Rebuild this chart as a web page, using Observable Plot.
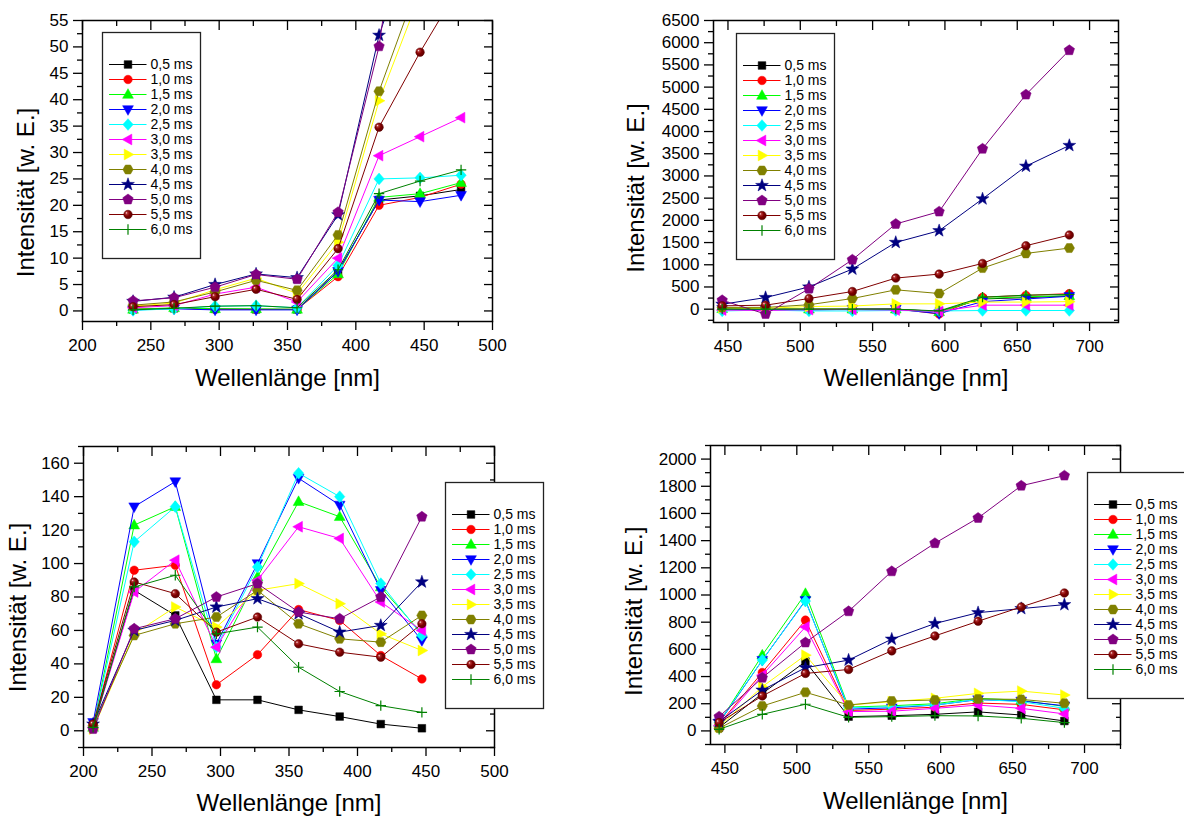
<!DOCTYPE html>
<html>
<head>
<meta charset="utf-8">
<script src="https://cdn.jsdelivr.net/npm/d3@7"></script>
<script src="https://cdn.jsdelivr.net/npm/@observablehq/plot@0.6"></script>
<style>
  body { margin: 0; background: #fff; width: 1184px; height: 816px; position: relative; overflow: hidden; font-family: "Liberation Sans", Arial, sans-serif; }
  .box { position: absolute; }
</style>
</head>
<body>
<svg width="0" height="0" style="position:absolute">
  <defs>
    <radialGradient id="sphereGrad" cx="0.42" cy="0.42" r="0.62" fx="0.3" fy="0.3">
      <stop offset="0" stop-color="#ffe8e8"/>
      <stop offset="0.22" stop-color="#b03030"/>
      <stop offset="0.55" stop-color="#800000"/>
      <stop offset="1" stop-color="#5a0000"/>
    </radialGradient>
  </defs>
</svg>
<script>
// ---------- data ----------
const labels = ["0,5 ms","1,0 ms","1,5 ms","2,0 ms","2,5 ms","3,0 ms","3,5 ms","4,0 ms","4,5 ms","5,0 ms","5,5 ms","6,0 ms"];
const colors = ["#000000","#ff0000","#00ff00","#0000ff","#00ffff","#ff00ff","#ffff00","#808000","#000080","#800080","#800000","#008000"];
const markers = ["square","circle","triangle","triangleDown","diamond","triangleLeft","triangleRight","hexagon","star","pentagon","sphere","plus"];

const xUvA = [237, 267, 297, 327, 357, 387, 417, 447, 477];   // top left
const xVis = [446, 476, 506, 536, 566, 596, 626, 656, 686];   // right panels
const xUvB = [207, 237, 267, 297, 327, 357, 387, 417, 447];   // bottom left

const topLeft = [
  [0.3, 0.5, 0.4, 0.3, 0.3, 7.5, 21.0, 21.8, 23.0],
  [0.3, 0.5, 0.3, 0.3, 0.3, 6.5, 20.0, 21.5, 24.0],
  [0.3, 0.6, 0.4, 0.4, 0.3, 7.0, 21.5, 22.2, 24.3],
  [0.2, 0.4, 0.2, 0.2, 0.2, 7.5, 21.0, 20.7, 21.9],
  [0.1, 0.4, 0.9, 1.0, 0.6, 8.6, 25.0, 25.2, 25.7],
  [0.6, 1.0, 3.2, 4.5, 1.7, 10.0, 29.4, 33.0, 36.6],
  [0.9, 1.5, 4.0, 6.2, 3.3, 13.0, 39.8, 60, 72],
  [1.1, 1.7, 3.6, 5.8, 3.9, 14.4, 41.6, 63, 78],
  [1.8, 2.6, 5.0, 7.0, 6.3, 18.2, 52.2, 75, 230],
  [1.9, 2.5, 4.5, 6.9, 6.0, 18.7, 50.1, 105, 120],
  [0.8, 1.2, 2.7, 4.1, 2.2, 11.8, 34.8, 49.0, 62],
  [0.2, 0.5, 0.9, 1.0, 0.6, 7.8, 22.2, 24.6, 26.7]
];
const topRight = [
  [10, 0, 0, 0, 0, -50, 230, 260, 300],
  [20, 0, 0, 0, 10, -110, 270, 310, 350],
  [10, 0, 0, 0, 0, -60, 240, 280, 300],
  [0, -10, -20, 0, 0, -100, 170, 230, 290],
  [-40, -20, -40, -40, -30, -40, -30, -30, -30],
  [-20, -30, -10, -10, -20, -50, 90, 90, 90],
  [30, 20, 60, 70, 120, 120, 160, 160, 170],
  [40, 40, 100, 240, 436, 353, 925, 1256, 1376],
  [110, 262, 500, 903, 1503, 1767, 2483, 3219, 3686],
  [200, -110, 460, 1113, 1918, 2196, 3611, 4830, 5830],
  [75, 90, 240, 398, 700, 790, 1030, 1429, 1670],
  [0, 0, 0, 0, 0, -40, 270, 316, 330]
];
const bottomLeft = [
  [3, 84, 69, 18.5, 18.5, 12.5, 8.5, 4, 1.5],
  [3, 96, 99, 27.5, 45.5, 72.5, 66, 45, 31],
  [2, 123, 134, 43, 92, 137, 128, 86, 58],
  [5, 134, 149, 52, 100, 151, 135, 84, 54],
  [2, 113, 134, 50, 98, 154, 140, 88, 57],
  [2, 83, 102, 50, 90, 122, 115, 77, 60],
  [1, 58, 74, 62, 84, 88, 76, 58, 48],
  [3, 57, 64, 68, 84, 64, 55, 53, 69],
  [4, 60, 66, 74, 79, 70, 59, 63, 89],
  [1, 61, 67, 80, 88, 71, 67, 80, 128],
  [4, 89, 82, 59, 68, 52, 47, 44, 64],
  [2, 86, 93, 58, 62, 38, 23.5, 15, 11]
];
const bottomRight = [
  [25, 275, 510, 105, 112, 122, 140, 117, 73],
  [50, 430, 815, 150, 160, 175, 205, 195, 155],
  [60, 557, 1010, 175, 185, 200, 240, 225, 180],
  [60, 520, 960, 160, 170, 190, 230, 220, 185],
  [65, 521, 955, 170, 178, 190, 232, 215, 166],
  [40, 410, 765, 142, 145, 166, 190, 166, 125],
  [30, 325, 557, 190, 215, 240, 276, 293, 264],
  [20, 183, 284, 191, 220, 227, 235, 232, 203],
  [68, 300, 465, 521, 675, 790, 870, 900, 929],
  [105, 391, 650, 880, 1174, 1381, 1567, 1804, 1878],
  [61, 257, 423, 452, 589, 699, 807, 912, 1015],
  [12, 122, 196, 100, 105, 112, 110, 93, 61]
];

const xTicksUv = [200, 250, 300, 350, 400, 450, 500];
const xTicksVis = [450, 500, 550, 600, 650, 700];
const yTicksTL = [0, 5, 10, 15, 20, 25, 30, 35, 40, 45, 50, 55];
const yTicksTR = [0, 500, 1000, 1500, 2000, 2500, 3000, 3500, 4000, 4500, 5000, 5500, 6000, 6500];
const yTicksBL = [0, 20, 40, 60, 80, 100, 120, 140, 160];
const yTicksBR = [0, 200, 400, 600, 800, 1000, 1200, 1400, 1600, 1800, 2000];
const xTitle = "Wellenlänge [nm]";
const yTitle = "Intensität [w. E.]";

// ---------- symbols ----------
function polySym(pts) {
  return { draw(ctx, size) {
    const r = Math.sqrt(size / Math.PI);
    ctx.moveTo(pts[0][0] * r, pts[0][1] * r);
    for (let i = 1; i < pts.length; i++) ctx.lineTo(pts[i][0] * r, pts[i][1] * r);
    ctx.closePath();
  }};
}
function regular(n, R, a0) {
  return d3.range(n).map(i => { const a = a0 + i * 2 * Math.PI / n; return [R * Math.cos(a), R * Math.sin(a)]; });
}
function starPts(R, r0) {
  return d3.range(10).map(i => { const a = -Math.PI / 2 + i * Math.PI / 5; const rr = i % 2 ? r0 : R; return [rr * Math.cos(a), rr * Math.sin(a)]; });
}
const circleSym = { draw(ctx, size) { const r = Math.sqrt(size / Math.PI) * 0.95; ctx.moveTo(r, 0); ctx.arc(0, 0, r, 0, 2 * Math.PI); } };
const plusSym = { draw(ctx, size) { const r = Math.sqrt(size / Math.PI) * 1.15; ctx.moveTo(-r, 0); ctx.lineTo(r, 0); ctx.moveTo(0, -r); ctx.lineTo(0, r); } };
const SYMBOLS = {
  square: polySym([[-0.85, -0.85], [0.85, -0.85], [0.85, 0.85], [-0.85, 0.85]]),
  circle: circleSym,
  triangle: polySym([[0, -1.3], [1.2, 0.85], [-1.2, 0.85]]),
  triangleDown: polySym([[0, 1.3], [1.2, -0.85], [-1.2, -0.85]]),
  triangleLeft: polySym([[-1.3, 0], [0.85, -1.2], [0.85, 1.2]]),
  triangleRight: polySym([[1.3, 0], [-0.85, -1.2], [-0.85, 1.2]]),
  diamond: polySym([[0, -1.3], [1.15, 0], [0, 1.3], [-1.15, 0]]),
  hexagon: polySym(regular(6, 1.15, 0)),
  pentagon: polySym(regular(5, 1.22, -Math.PI / 2)),
  star: polySym(starPts(1.5, 0.6)),
  sphere: circleSym,
  plus: plusSym
};

function dotMark(data, k, opts) {
  const m = markers[k];
  const o = { ...opts, symbol: SYMBOLS[m], r: 4.5 };
  if (m === "plus") { o.fill = "none"; o.stroke = colors[k]; o.strokeWidth = 1.2; }
  else if (m === "sphere") { o.fill = "url(#sphereGrad)"; o.stroke = "#600000"; o.strokeWidth = 0.5; }
  else { o.fill = colors[k]; o.stroke = colors[k]; o.strokeWidth = 0.5; }
  return Plot.dot(data, o);
}

function seriesMarks(xs, rows) {
  const out = [];
  rows.forEach((vals, k) => {
    const pts = xs.map((x, i) => ({ x, y: vals[i] }));
    out.push(Plot.line(pts, { x: "x", y: "y", stroke: colors[k], strokeWidth: 1, clip: true }));
    out.push(dotMark(pts, k, { x: "x", y: "y", clip: true }));
  });
  return out;
}

const FONT = "'Liberation Sans', Arial, sans-serif";

function minors(ticks, step, lo, hi) {
  const out = [];
  for (let v = ticks[0] - step / 2; v <= hi + 1e-9; v += step) if (v >= lo - 1e-9 && v <= hi + 1e-9) out.push(+v.toFixed(6));
  return out;
}

function panel(cfg) {
  const { left, top, width, height, m, xDomain, yDomain, xTicks, yTicks, xs, rows, yTitlePos, xTitleDy } = cfg;
  const xMin = minors(xTicks, xTicks[1] - xTicks[0], xDomain[0], xDomain[1]);
  const yMin = minors(yTicks, yTicks[1] - yTicks[0], yDomain[0], yDomain[1]);
  const blank = () => "";
  const ax = { label: null, strokeWidth: 1.3 };
  const plot = Plot.plot({
    width, height,
    marginLeft: m[0], marginRight: m[1], marginTop: m[2], marginBottom: m[3],
    x: { domain: xDomain, label: null },
    y: { domain: yDomain, label: null },
    style: { fontFamily: FONT, fontSize: "17px", color: "black", background: "transparent", overflow: "visible" },
    marks: [
      ...seriesMarks(xs, rows),
      Plot.frame({ stroke: "black", strokeWidth: 1.5 }),
      Plot.axisX({ ...ax, anchor: "bottom", ticks: xTicks, tickSize: 9, tickPadding: 8, fontSize: 17, tickFormat: d => String(d) }),
      Plot.axisX({ ...ax, anchor: "bottom", ticks: xMin, tickSize: 5, tickFormat: blank }),
      Plot.axisX({ ...ax, anchor: "top", ticks: xTicks, tickSize: 9, dy: 9, tickFormat: blank }),
      Plot.axisX({ ...ax, anchor: "top", ticks: xMin, tickSize: 5, dy: 5, tickFormat: blank }),
      Plot.axisY({ ...ax, anchor: "left", ticks: yTicks, tickSize: 9, tickPadding: 5, fontSize: 17, tickFormat: d => String(d) }),
      Plot.axisY({ ...ax, anchor: "left", ticks: yMin, tickSize: 5, tickFormat: blank }),
      Plot.axisY({ ...ax, anchor: "right", ticks: yTicks, tickSize: 9, dx: -9, tickFormat: blank }),
      Plot.axisY({ ...ax, anchor: "right", ticks: yMin, tickSize: 5, dx: -5, tickFormat: blank }),
      Plot.text([xTitle], { text: d => d, frameAnchor: "bottom", dy: xTitleDy, fontSize: 24, lineAnchor: "middle", fill: "black" }),
      Plot.text([yTitle], { text: d => d, frameAnchor: "left", dx: yTitlePos[0], dy: yTitlePos[1], rotate: -90, fontSize: 24, lineAnchor: "middle", textAnchor: "middle", fill: "black" })
    ]
  });
  const div = document.createElement("div");
  div.className = "box";
  div.style.left = left + "px";
  div.style.top = top + "px";
  div.appendChild(plot);
  document.body.appendChild(div);
}

function legend(left, top) {
  const marks = [Plot.frame({ fill: "white", stroke: "#222", strokeWidth: 1.3 })];
  labels.forEach((lab, k) => {
    marks.push(Plot.ruleY([lab], { y: d => d, x1: () => 7, x2: () => 44.5, stroke: colors[k], strokeWidth: 1.2 }));
    marks.push(dotMark([lab], k, { x: () => 25.5, y: d => d }));
  });
  marks.push(Plot.text(labels, { x: () => 48, y: d => d, text: d => d, textAnchor: "start", fontSize: 14, fill: "black" }));
  const plot = Plot.plot({
    width: 100, height: 228, marginLeft: 1, marginRight: 1, marginTop: 1, marginBottom: 1,
    x: { domain: [0, 98], axis: null },
    y: { type: "point", domain: labels, range: [22.5, 208.4], axis: null },
    style: { fontFamily: FONT, fontSize: "14px", background: "transparent", overflow: "visible" },
    marks
  });
  const div = document.createElement("div");
  div.className = "box";
  div.style.left = (left - 1) + "px";
  div.style.top = (top - 1) + "px";
  div.style.width = "100px";
  div.appendChild(plot);
  document.body.appendChild(div);
}

panel({ left: 0, top: 0, width: 592, height: 400, m: [82, 100, 20, 79], xDomain: [200, 500], yDomain: [-2, 55],
  xTicks: xTicksUv, yTicks: yTicksTL, xs: xUvA, rows: topLeft, yTitlePos: [-56, 21.5], xTitleDy: 57 });
panel({ left: 600, top: 0, width: 584, height: 400, m: [113, 66, 20, 78], xDomain: [440, 720], yDomain: [-300, 6500],
  xTicks: xTicksVis, yTicks: yTicksTR, xs: xVis, rows: topRight, yTitlePos: [-77.3, 16.5], xTitleDy: 56 });
panel({ left: 0, top: 400, width: 592, height: 416, m: [83, 98, 46, 69], xDomain: [200, 500], yDomain: [-10, 170],
  xTicks: xTicksUv, yTicks: yTicksBL, xs: xUvB, rows: bottomLeft, yTitlePos: [-65.2, 10.5], xTitleDy: 56 });
panel({ left: 600, top: 400, width: 584, height: 416, m: [110, 64, 45, 72], xDomain: [440, 725], yDomain: [-100, 2100],
  xTicks: xTicksVis, yTicks: yTicksBR, xs: xVis, rows: bottomRight, yTitlePos: [-76.5, 16.3], xTitleDy: 57 });

legend(102.3, 31.7);
legend(736, 33.3);
legend(445, 481.7);
legend(1086.7, 472.3);
</script>
</body>
</html>
